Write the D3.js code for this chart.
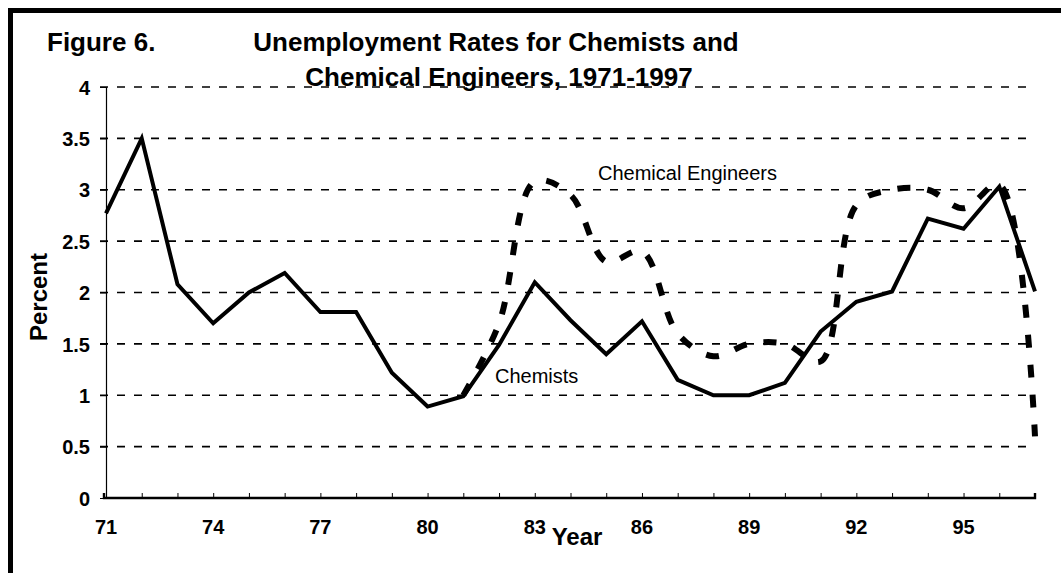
<!DOCTYPE html>
<html lang="en">
<head>
    <meta charset="UTF-8">
    <title>Unemployment Rates for Chemists and Chemical Engineers</title>
    <script src="https://cdn.jsdelivr.net/npm/d3@7"></script>
    <style>
        body {
            margin: 0;
            background-color: #fff;
            font-family: Arial, 'Liberation Sans', sans-serif;
        }
        svg text {
            fill: #000;
        }
        .tick-label {
            font-size: 20px;
            font-weight: bold;
        }
    </style>
</head>
<body>
    <svg width="1061" height="573"></svg>

    <script>
        // years 1971-1997 (two-digit)
        const years = d3.range(71, 98);
        const chemists = [2.77, 3.5, 2.08, 1.7, 2.0, 2.19, 1.81, 1.81, 1.22, 0.89,
            0.99, 1.49, 2.1, 1.73, 1.4, 1.72, 1.15, 1.0, 1.0, 1.12,
            1.62, 1.91, 2.01, 2.72, 2.62, 3.03, 2.01];
        // chemical engineers series starts in 1981
        const engYears = d3.range(81, 98);
        const engineers = [1.0, 1.7, 3.08, 2.95, 2.3, 2.4, 1.6, 1.38, 1.5, 1.5,
            1.33, 2.85, 3.0, 3.0, 2.82, 3.05, 0.6];
        const yTicks = [0, 0.5, 1, 1.5, 2, 2.5, 3, 3.5, 4];
        const xLabels = [71, 74, 77, 80, 83, 86, 89, 92, 95];

        const svg = d3.select("svg");

        const x = d3.scaleLinear().domain([71, 97]).range([106, 1035]);
        const y = d3.scaleLinear().domain([0, 4]).range([498, 87]);

        // frame (top and left edges)
        svg.append("line")
            .attr("x1", 8).attr("x2", 1061).attr("y1", 10.5).attr("y2", 10.5)
            .attr("stroke", "#000").attr("stroke-width", 5);
        svg.append("line")
            .attr("x1", 10.5).attr("x2", 10.5).attr("y1", 8).attr("y2", 573)
            .attr("stroke", "#000").attr("stroke-width", 5);

        // dashed gridlines
        svg.append("g")
            .selectAll("line")
            .data(yTicks.filter(d => d > 0))
            .enter()
            .append("line")
            .attr("x1", 100)
            .attr("x2", 1032)
            .attr("y1", d => y(d))
            .attr("y2", d => y(d))
            .attr("stroke", "#000")
            .attr("stroke-width", 1.6)
            .attr("stroke-dasharray", "8,9");

        // y axis
        const yAxis = svg.append("g")
            .attr("transform", "translate(106,0)")
            .call(d3.axisLeft(y).tickValues(yTicks).tickSize(6).tickPadding(10)
                .tickFormat(d3.format("")));
        yAxis.select(".domain").attr("stroke-width", 1.2);
        yAxis.selectAll("text")
            .attr("class", "tick-label")
            .attr("font-family", "Arial, 'Liberation Sans', sans-serif")
            .attr("dy", "0.36em");

        // x axis: inward ticks every year
        const xAxis = svg.append("g")
            .attr("transform", "translate(0,498)")
            .call(d3.axisTop(x).tickValues(years).tickSize(5).tickFormat(""));
        xAxis.select(".domain").attr("stroke-width", 2.4).attr("d", "M104,-5V0H1035V-5");

        svg.append("g")
            .selectAll("text")
            .data(xLabels)
            .enter()
            .append("text")
            .attr("class", "tick-label")
            .attr("x", d => x(d))
            .attr("y", 534)
            .attr("text-anchor", "middle")
            .text(d => d);

        // axis titles
        svg.append("text")
            .attr("x", 577)
            .attr("y", 545)
            .attr("text-anchor", "middle")
            .attr("font-size", 24)
            .attr("font-weight", "bold")
            .text("Year");

        svg.append("text")
            .attr("transform", "translate(47,297) rotate(-90)")
            .attr("text-anchor", "middle")
            .attr("font-size", 24)
            .attr("font-weight", "bold")
            .text("Percent");

        // lines
        const chemLine = d3.line()
            .x((d, i) => x(years[i]))
            .y(d => y(d));

        svg.append("path")
            .datum(chemists)
            .attr("d", chemLine)
            .attr("fill", "none")
            .attr("stroke", "#000")
            .attr("stroke-width", 4)
            .attr("stroke-linejoin", "miter");

        const engLine = d3.line()
            .x((d, i) => x(engYears[i]))
            .y(d => y(d))
            .curve(d3.curveCatmullRom);

        svg.append("path")
            .datum(engineers)
            .attr("d", engLine)
            .attr("fill", "none")
            .attr("stroke", "#000")
            .attr("stroke-width", 6)
            .attr("stroke-dasharray", "13,17");

        // series labels
        svg.append("text")
            .attr("x", 598)
            .attr("y", 180)
            .attr("font-size", 20)
            .text("Chemical Engineers");

        svg.append("text")
            .attr("x", 495)
            .attr("y", 383)
            .attr("font-size", 20)
            .text("Chemists");

        // title
        svg.append("text")
            .attr("x", 47)
            .attr("y", 51)
            .attr("font-size", 26)
            .attr("font-weight", "bold")
            .text("Figure 6.");

        svg.append("text")
            .attr("x", 496)
            .attr("y", 51)
            .attr("text-anchor", "middle")
            .attr("font-size", 26)
            .attr("font-weight", "bold")
            .text("Unemployment Rates for Chemists and");

        svg.append("text")
            .attr("x", 499)
            .attr("y", 86)
            .attr("text-anchor", "middle")
            .attr("font-size", 26)
            .attr("font-weight", "bold")
            .text("Chemical Engineers, 1971-1997");
    </script>
</body>
</html>
